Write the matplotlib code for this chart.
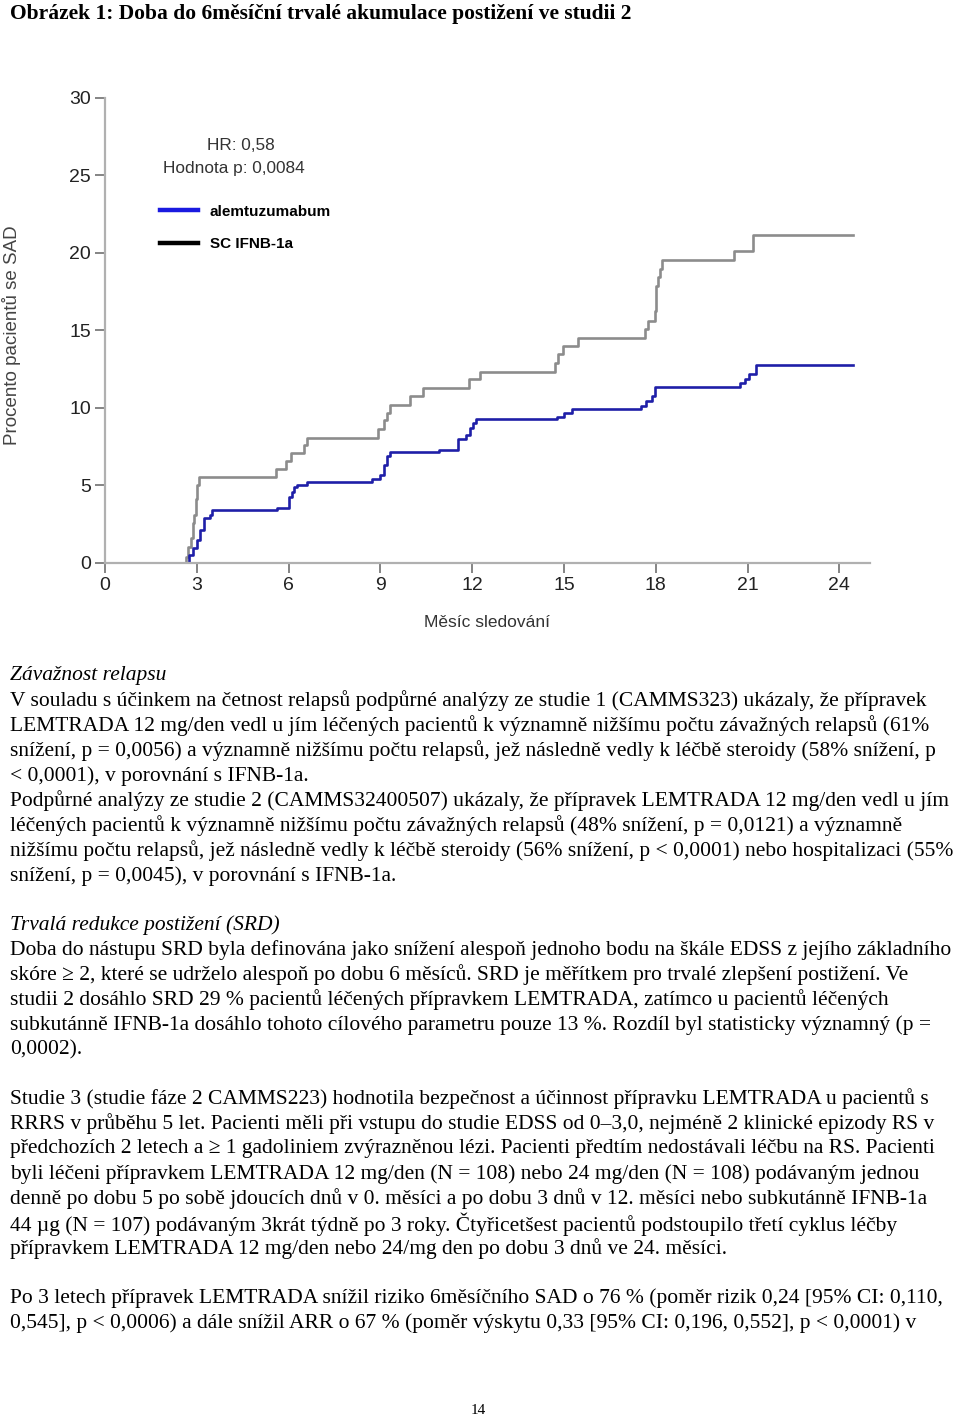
import matplotlib
matplotlib.use("Agg")
import matplotlib.pyplot as plt

# data (months, % of patients with SAD)
ifnb_months = [0, 2.64, 2.72, 2.8, 2.87, 2.92, 2.97, 3.02, 3.08, 5.6, 5.9, 6.07, 6.5, 6.6,
               8.92, 9.11, 9.22, 9.33, 9.98, 10.39, 11.88, 12.24, 14.7, 14.8, 14.98, 15.47,
               17.64, 17.74, 17.97, 18.0, 18.07, 18.13, 18.21, 20.54, 21.19, 24.45]
ifnb_pct = [0, 0.4, 1.05, 1.6, 2.6, 3.1, 4.1, 5.05, 5.55, 6.08, 6.56, 7.1, 7.6, 8.08,
            8.65, 9.2, 9.69, 10.22, 10.76, 11.26, 11.84, 12.32, 12.92, 13.46, 14.0, 14.54,
            15.08, 15.62, 16.27, 17.88, 18.43, 18.96, 19.55, 20.11, 21.19, 21.19]

alem_months = [0, 2.75, 2.86, 3.02, 3.11, 3.24, 3.43, 3.51, 5.63, 6.01, 6.12, 6.19, 6.28, 6.61,
               8.73, 9.0, 9.11, 9.22, 9.3, 10.9, 11.55, 11.8, 11.94, 12.04, 12.13, 14.76,
               15.0, 15.25, 17.53, 17.69, 17.86, 17.97, 20.74, 20.9, 21.04, 21.26, 24.45]
alem_pct = [0, 0.52, 0.96, 1.49, 2.14, 2.89, 3.1, 3.39, 3.54, 4.29, 4.61, 4.9, 5.05, 5.2,
            5.44, 5.7, 6.34, 6.88, 7.14, 7.31, 8.0, 8.28, 8.72, 9.04, 9.26, 9.43,
            9.69, 9.95, 10.16, 10.44, 10.76, 11.38, 11.63, 11.89, 12.17, 12.77, 12.77]

x_ticks = [0, 3, 6, 9, 12, 15, 18, 21, 24]
y_ticks = [0, 5, 10, 15, 20, 25, 30]

title = "Obrázek 1: Doba do 6měsíční trvalé akumulace postižení ve studii 2"

# (text, style) per line, None = blank line
body = [
    ("Závažnost relapsu", "italic"),
    ("V souladu s účinkem na četnost relapsů podpůrné analýzy ze studie 1 (CAMMS323) ukázaly, že přípravek", "normal"),
    ("LEMTRADA 12 mg/den vedl u jím léčených pacientů k významně nižšímu počtu závažných relapsů (61%", "normal"),
    ("snížení, p = 0,0056) a významně nižšímu počtu relapsů, jež následně vedly k léčbě steroidy (58% snížení, p", "normal"),
    ("< 0,0001), v porovnání s IFNB-1a.", "normal"),
    ("Podpůrné analýzy ze studie 2 (CAMMS32400507) ukázaly, že přípravek LEMTRADA 12 mg/den vedl u jím", "normal"),
    ("léčených pacientů k významně nižšímu počtu závažných relapsů (48% snížení, p = 0,0121) a významně", "normal"),
    ("nižšímu počtu relapsů, jež následně vedly k léčbě steroidy (56% snížení, p < 0,0001) nebo hospitalizaci (55%", "normal"),
    ("snížení, p = 0,0045), v porovnání s IFNB-1a.", "normal"),
    None,
    ("Trvalá redukce postižení (SRD)", "italic"),
    ("Doba do nástupu SRD byla definována jako snížení alespoň jednoho bodu na škále EDSS z jejího základního", "normal"),
    ("skóre ≥ 2, které se udrželo alespoň po dobu 6 měsíců. SRD je měřítkem pro trvalé zlepšení postižení. Ve", "normal"),
    ("studii 2 dosáhlo SRD 29 % pacientů léčených přípravkem LEMTRADA, zatímco u pacientů léčených", "normal"),
    ("subkutánně IFNB-1a dosáhlo tohoto cílového parametru pouze 13 %. Rozdíl byl statisticky významný (p =", "normal"),
    ("0,0002).", "normal"),
    None,
    ("Studie 3 (studie fáze 2 CAMMS223) hodnotila bezpečnost a účinnost přípravku LEMTRADA u pacientů s", "normal"),
    ("RRRS v průběhu 5 let. Pacienti měli při vstupu do studie EDSS od 0–3,0, nejméně 2 klinické epizody RS v", "normal"),
    ("předchozích 2 letech a ≥ 1 gadoliniem zvýrazněnou lézi. Pacienti předtím nedostávali léčbu na RS. Pacienti", "normal"),
    ("byli léčeni přípravkem LEMTRADA 12 mg/den (N = 108) nebo 24 mg/den (N = 108) podávaným jednou", "normal"),
    ("denně po dobu 5 po sobě jdoucích dnů v 0. měsíci a po dobu 3 dnů v 12. měsíci nebo subkutánně IFNB-1a", "normal"),
    ("44 µg (N = 107) podávaným 3krát týdně po 3 roky. Čtyřicetšest pacientů podstoupilo třetí cyklus léčby", "normal"),
    ("přípravkem LEMTRADA 12 mg/den nebo 24/mg den po dobu 3 dnů ve 24. měsíci.", "normal"),
    None,
    ("Po 3 letech přípravek LEMTRADA snížil riziko 6měsíčního SAD o 76 % (poměr rizik 0,24 [95% CI: 0,110,", "normal"),
    ("0,545], p < 0,0006) a dále snížil ARR o 67 % (poměr výskytu 0,33 [95% CI: 0,196, 0,552], p < 0,0001) v", "normal"),
]

W, H = 960, 1418
fig = plt.figure(figsize=(W / 100, H / 100), dpi=100)
fig.patch.set_facecolor("white")

ax = fig.add_axes([105 / W, 1 - 563 / H, 765 / W, 465 / H])
ax.step(ifnb_months, ifnb_pct, where="post", color="#8c8c8c", lw=1.9)
ax.step(alem_months, alem_pct, where="post", color="#1f1fa8", lw=1.9)
ax.set_xlim(0, 25)
ax.set_ylim(0, 30)
ax.set_xticks(x_ticks)
ax.set_yticks(y_ticks)
for s in ["top", "right"]:
    ax.spines[s].set_visible(False)
for s in ["left", "bottom"]:
    ax.spines[s].set_color("#b0b0b0")
    ax.spines[s].set_linewidth(1.6)
ax.tick_params(colors="#707070", length=7, width=1.2, labelcolor="#222222",
               labelsize=14, pad=3)
for lab in ax.get_xticklabels() + ax.get_yticklabels():
    lab.set_family("Liberation Sans")
ax.set_xlabel("Měsíc sledování", fontsize=12.5, family="Liberation Sans",
              color="#333333", labelpad=15)
fig.text(12 / W, 1 - 335 / H, "Procento pacientů se SAD", rotation=90,
         ha="center", va="center", fontsize=13.5, family="Liberation Sans", color="#444444")

# annotations and legend
fig.text(241 / W, 1 - 146 / H, "HR: 0,58", ha="center", va="center",
         fontsize=12.4, family="Liberation Sans", color="#333333")
fig.text(234 / W, 1 - 169 / H, "Hodnota p: 0,0084", ha="center", va="center",
         fontsize=12.4, family="Liberation Sans", color="#333333")
fig.add_artist(plt.Line2D([160 / W, 198 / W], [1 - 210 / H] * 2, color="#1a1ae0", lw=3.2))
fig.add_artist(plt.Line2D([160 / W, 198 / W], [1 - 243 / H] * 2, color="black", lw=3.2))
fig.text(210 / W, 1 - 212 / H, "alemtuzumabum", va="center", fontsize=11,
         weight="bold", family="Liberation Sans")
fig.text(210 / W, 1 - 244 / H, "SC IFNB-1a", va="center", fontsize=11,
         weight="bold", family="Liberation Sans")

# page text
fig.text(10 / W, 1 - 14 / H, title, va="center", fontsize=15.5, weight="bold",
         family="Liberation Serif")
y = 676
for line in body:
    if line is not None:
        txt, st = line
        fig.text(10 / W, 1 - y / H, txt, va="center", fontsize=15.5, style=st,
                 family="Liberation Serif")
    y += 25 if line is not None else 24
fig.text(478 / W, 1 - 1410 / H, "14", ha="center", va="center", fontsize=11,
         family="Liberation Serif")

fig.savefig("out.png", dpi=100)
